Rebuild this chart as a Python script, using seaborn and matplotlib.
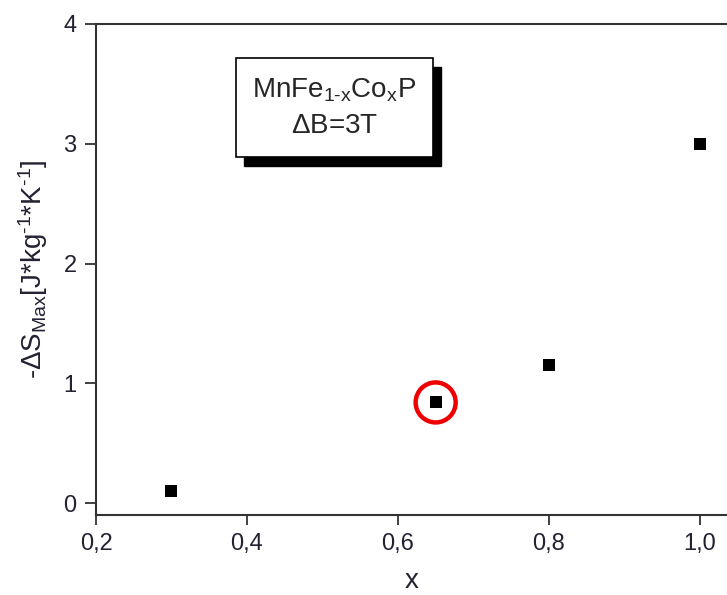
import numpy as np
import pandas as pd
import matplotlib
matplotlib.use("Agg")
import matplotlib.pyplot as plt
from matplotlib.patches import Rectangle
from matplotlib.ticker import FuncFormatter
import seaborn as sns

# data
x_vals = [0.30, 0.65, 0.80, 1.00]
ds_max = [0.10, 0.84, 1.15, 3.00]
highlight_x = 0.65
highlight_y = 0.84

sns.set_style("white")
plt.rcParams['font.family'] = ['Liberation Sans', 'DejaVu Sans']
plt.rcParams['mathtext.fontset'] = 'custom'
plt.rcParams['mathtext.rm'] = 'Liberation Sans'
plt.rcParams['mathtext.it'] = 'Liberation Sans'

df = pd.DataFrame({'x': x_vals, 'ds': ds_max})

fig = plt.figure(figsize=(7.27, 5.95), dpi=100)
ax = fig.add_axes([96 / 727, 80 / 595, 631 / 727, 491 / 595])

sns.scatterplot(data=df, x='x', y='ds', marker='s', s=80, color='black',
                edgecolor='black', linewidth=0, ax=ax, legend=False)

# red circle around highlighted point
ax.scatter([highlight_x], [highlight_y], marker='o', s=830, facecolors='none',
           edgecolors='#ee0000', linewidths=3.2, zorder=4)

ax.set_xlim(0.2, 1.036)
ax.set_ylim(-0.1, 4.0)
ax.set_xticks([0.2, 0.4, 0.6, 0.8, 1.0])
ax.set_yticks([0, 1, 2, 3, 4])
ax.xaxis.set_major_formatter(FuncFormatter(lambda v, p: f"{v:.1f}".replace('.', ',')))
ax.yaxis.set_major_formatter(FuncFormatter(lambda v, p: f"{v:.0f}"))

for s in ['left', 'top', 'bottom']:
    ax.spines[s].set_color('#333333')
    ax.spines[s].set_linewidth(1.5)
ax.spines['right'].set_visible(False)

ax.tick_params(axis='x', direction='out', length=7, width=1.3, color='#333333',
               labelsize=17, labelcolor='#222233', pad=6)
ax.tick_params(axis='y', direction='out', length=8, width=1.3, color='#333333',
               labelsize=17, labelcolor='#222233', pad=6)
ax.xaxis.set_ticks_position('bottom')
ax.yaxis.set_ticks_position('left')

ax.set_xlabel('x', fontsize=20, color='#222233', labelpad=9)
ax.set_ylabel(r'-$\Delta$S$_{\mathrm{Max}}$[J*kg$^{\text{-1}}$*K$^{\text{-1}}$]',
              fontsize=20, color='#222233', labelpad=10)

# annotation box with drop shadow
bx0, bx1 = 0.222, 0.534
by0, by1 = 0.729, 0.931
ax.add_patch(Rectangle((bx0 + 0.013, by0 - 0.018), bx1 - bx0, by1 - by0,
                       transform=ax.transAxes, facecolor='black',
                       edgecolor='black', zorder=5, clip_on=False))
ax.add_patch(Rectangle((bx0, by0), bx1 - bx0, by1 - by0,
                       transform=ax.transAxes, facecolor='white',
                       edgecolor='black', linewidth=1.2, zorder=6, clip_on=False))
cx = (bx0 + bx1) / 2
ax.text(cx, 0.866, r'MnFe$_{\text{1-x}}$Co$_{\text{x}}$P',
        transform=ax.transAxes, ha='center', va='center', fontsize=20, zorder=7)
ax.text(cx, 0.793, r'$\Delta$B=3T', transform=ax.transAxes,
        ha='center', va='center', fontsize=20, zorder=7)

fig.savefig('out.png', dpi=100)
